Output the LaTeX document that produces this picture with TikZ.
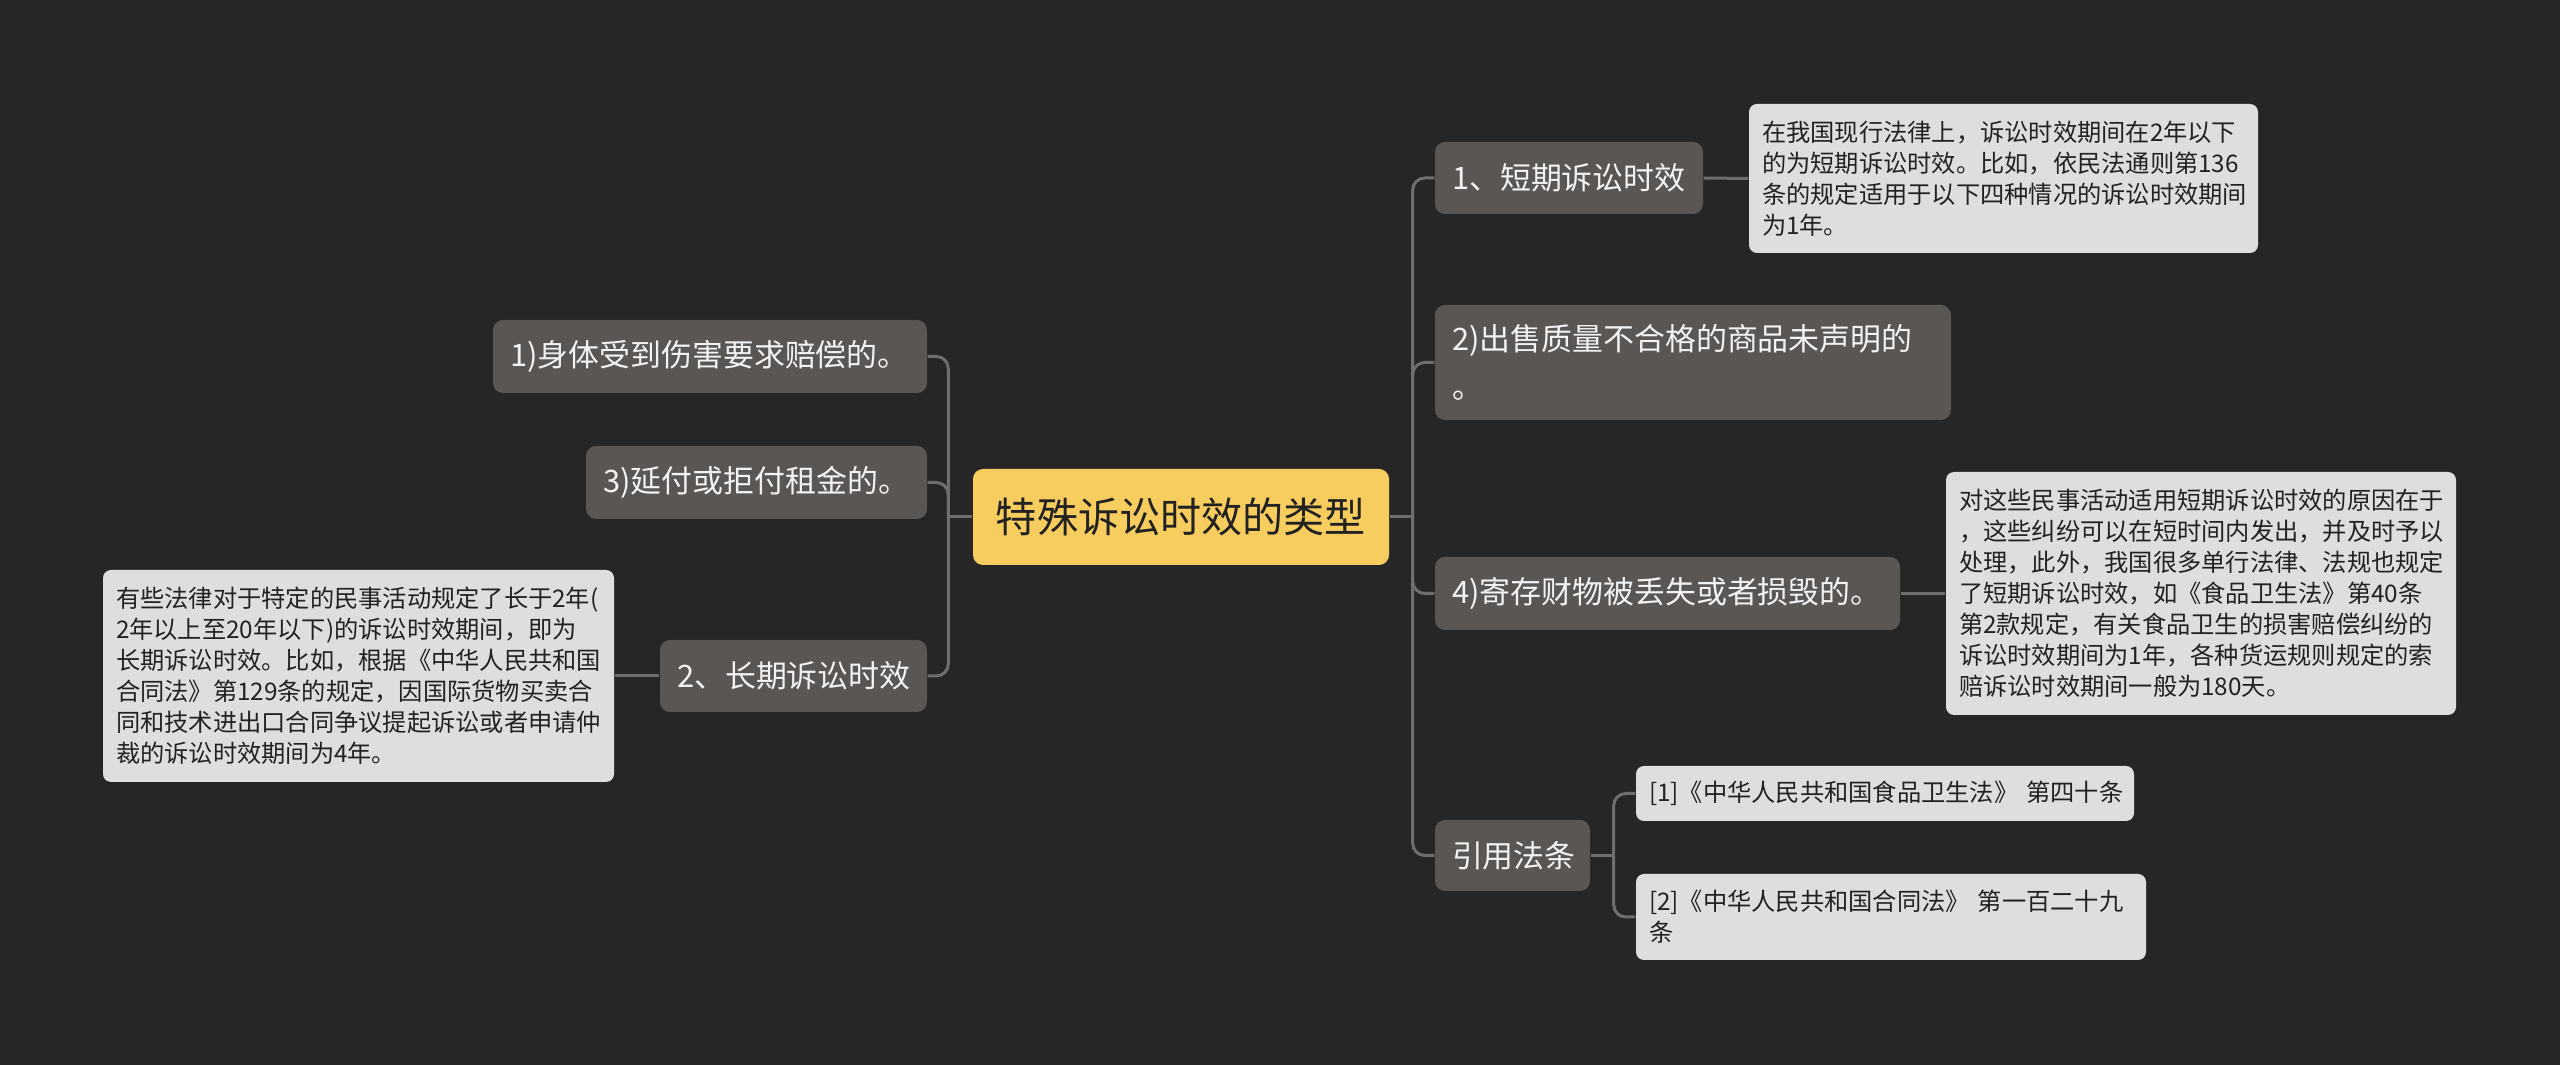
\documentclass[tikz,border=0pt]{standalone}
\usepackage{fontspec}
\setmainfont{Noto Sans CJK SC}
\usepackage{tikz}
\usetikzlibrary{positioning,calc}
\definecolor{bgdark}   {HTML}{262626}
\definecolor{topicfill}{HTML}{5A5654}
\definecolor{rootfill} {HTML}{F6CD5E}
\definecolor{notefill} {HTML}{DEDEDE}
\definecolor{ink}      {HTML}{222222}
\definecolor{wire}     {HTML}{6E6E6E}
\tikzset{
  % --- nodes
  base/.style  = {rounded corners=0.1cm, align=left, inner xsep=0.17cm, inner ysep=0pt},
  root/.style  = {base, fill=rootfill, text=ink, align=center, inner xsep=0.2cm,
                  font=\fontsize{11.7}{14}\selectfont},
  topic/.style = {base, fill=topicfill, text=white!95!black,
                  font=\fontsize{8.8}{13.5}\selectfont},
  note/.style  = {base, fill=notefill, text=ink, inner xsep=0.13cm, rounded corners=0.08cm,
                  font=\fontsize{6.9}{8.8}\selectfont},
  % --- edges
  link/.style  = {draw=wire, line width=0.03cm, rounded corners=0.12cm},
}
\begin{document}
\begin{tikzpicture}
  \fill[bgdark] (0,0) rectangle (25.6,10.65);
  \useasboundingbox (0,0) rectangle (25.6,10.65);
  % centre
  \node[root, text width=3.76cm, minimum height=0.96cm] (root) at (11.81,5.48) {特殊诉讼时效的类型};
  % left side
  \node[topic, text width=4.00cm, minimum height=0.73cm] (l1) at (7.10,7.085) {1)身体受到伤害要求赔偿的。};
  \node[topic, text width=3.07cm, minimum height=0.73cm] (l3) at (7.565,5.825) {3)延付或拒付租金的。};
  \node[topic, text width=2.33cm, minimum height=0.72cm] (lg) at (7.935,3.89) {2、长期诉讼时效};
  \node[note, text width=4.85cm, minimum height=2.12cm] (ln) at (3.585,3.89)
    {有些法律对于特定的民事活动规定了长于2年(\\2年以上至20年以下)的诉讼时效期间，即为\\长期诉讼时效。比如，根据《中华人民共和国\\合同法》第129条的规定，因国际货物买卖合\\同和技术进出口合同争议提起诉讼或者申请仲\\裁的诉讼时效期间为4年。};
  % right side
  \node[topic, text width=2.34cm, minimum height=0.72cm] (s1) at (15.69,8.87) {1、短期诉讼时效};
  \node[note, text width=4.83cm, minimum height=1.49cm] (n1) at (20.035,8.865)
    {在我国现行法律上，诉讼时效期间在2年以下\\的为短期诉讼时效。比如，依民法通则第136\\条的规定适用于以下四种情况的诉讼时效期间\\为1年。};
  \node[topic, text width=4.82cm, minimum height=1.15cm] (s2) at (16.93,7.025) {2)出售质量不合格的商品未声明的\\。};
  \node[topic, text width=4.31cm, minimum height=0.73cm] (s4) at (16.675,4.715) {4)寄存财物被丢失或者损毁的。};
  \node[note, text width=4.84cm, minimum height=2.43cm] (n4) at (22.01,4.715)
    {对这些民事活动适用短期诉讼时效的原因在于\\，这些纠纷可以在短时间内发出，并及时予以\\处理，此外，我国很多单行法律、法规也规定\\了短期诉讼时效，如《食品卫生法》第40条\\第2款规定，有关食品卫生的损害赔偿纠纷的\\诉讼时效期间为1年，各种货运规则规定的索\\赔诉讼时效期间一般为180天。};
  \node[topic, text width=1.21cm, minimum height=0.71cm] (cite) at (15.125,2.095) {引用法条};
  \node[note, text width=4.72cm, minimum height=0.55cm] (c1) at (18.85,2.715) {\mbox{[1]《中华人民共和国食品卫生法》 第四十条}};
  \node[note, text width=4.84cm, minimum height=0.86cm] (c2) at (18.91,1.48) {[2]《中华人民共和国合同法》 第一百二十九\\条};
  % connectors
  \coordinate (ls) at ($(root.west)+(-0.24,0)$);
  \coordinate (rs) at ($(root.east)+(0.23,0)$);
  \coordinate (cs) at ($(cite.east)+(0.23,0)$);
  \draw[link] (root.west)--(ls); \draw[link] (ls)|-(l1.east); \draw[link] (ls)|-(l3.east); \draw[link] (ls)|-(lg.east);
  \draw[link] (lg.west)--(ln.east);
  \draw[link] (root.east)--(rs); \draw[link] (rs)|-(s1.west); \draw[link] (rs)|-(s2.west); \draw[link] (rs)|-(s4.west); \draw[link] (rs)|-(cite.west);
  \draw[link] (s1.east)--(n1.west); \draw[link] (s4.east)--(n4.west);
  \draw[link] (cite.east)--(cs); \draw[link] (cs)|-(c1.west); \draw[link] (cs)|-(c2.west);
\end{tikzpicture}
\end{document}
